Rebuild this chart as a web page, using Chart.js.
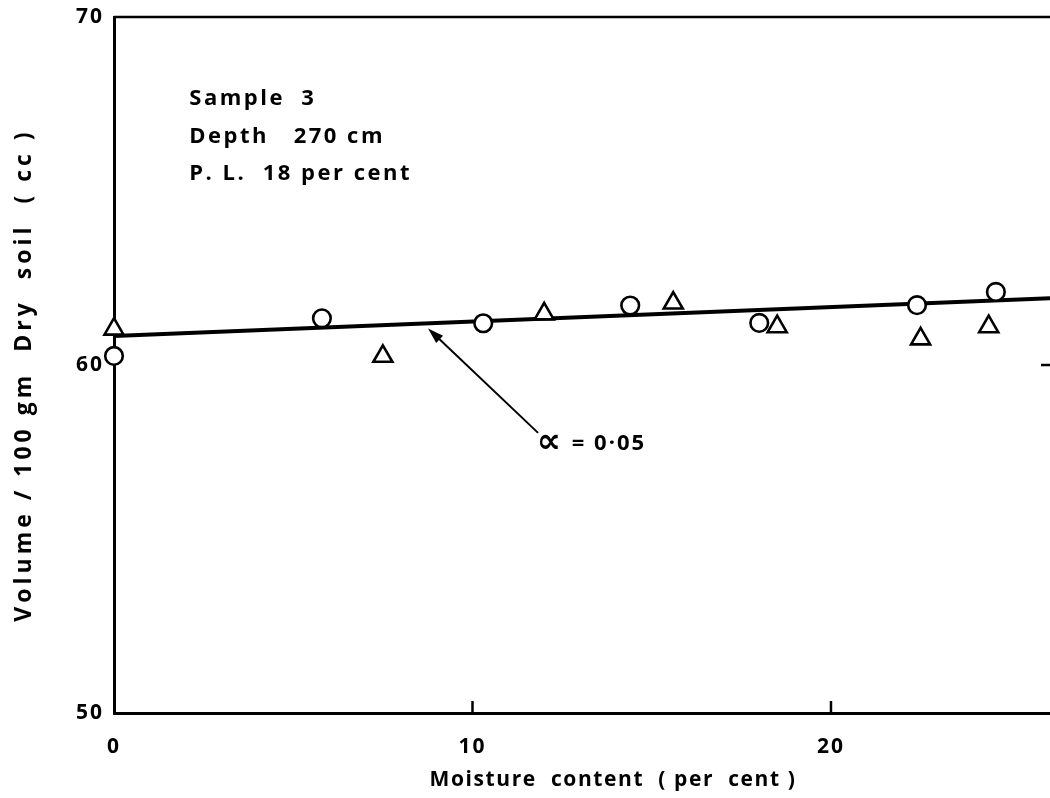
<!DOCTYPE html>
<html>
<head>
<meta charset="utf-8">
<title>Volume vs moisture content - Sample 3</title>
<script src="https://cdn.jsdelivr.net/npm/chart.js@4.4.1/dist/chart.umd.min.js"></script>
<style>
  html, body { margin: 0; padding: 0; background: #fff; overflow: hidden; }
  #wrap { width: 1050px; height: 798px; position: relative; }
  #soilChart { display: block; }
</style>
</head>
<body>
<div id="wrap"><canvas id="soilChart"></canvas></div>
<script>
// moisture content (per cent) / volume per 100 gm dry soil (cc)
const circleX = [0, 5.8, 10.3, 14.4, 18.0, 22.4, 24.6];
const circleY = [60.26, 61.34, 61.2, 61.71, 61.21, 61.72, 62.1];
const triangleX = [0, 7.5, 12.0, 15.6, 18.5, 22.5, 24.4];
const triangleY = [61.03, 60.25, 61.47, 61.78, 61.1, 60.75, 61.1];

// fitted line, alpha = 0.05
const fitX = [0, 26.11];
const fitY = [60.83, 61.92];

const xTicks = [0, 10, 20];
const yTicks = [50, 60, 70];

const noteLines = ['Sample  3', 'Depth   270 cm', 'P. L.  18 per cent'];
const alphaSymbol = '\u221D';
const alphaValue = '= 0\u00B705';
const xTitle = 'Moisture  content  ( per  cent )';
const yTitle = 'Volume / 100 gm  Dry  soil  ( cc )';

const FONT = '"Open Sans", "DejaVu Sans", sans-serif';

function toPoints(xs, ys) {
    return xs.map(function(x, i) { return { x: x, y: ys[i] }; });
}

// extra drawing: frame top, inward ticks, notes, arrow, titles
const extras = {
    id: 'extras',
    beforeDraw: function(chart) {
        chart.ctx.letterSpacing = '2px';
    },
    afterDraw: function(chart) {
        const ctx = chart.ctx;
        const x = chart.scales.x;
        const y = chart.scales.y;
        const area = chart.chartArea;
        ctx.save();
        ctx.strokeStyle = '#000';
        ctx.fillStyle = '#000';

        // top frame line
        ctx.lineWidth = 2.5;
        ctx.beginPath();
        ctx.moveTo(area.left, area.top);
        ctx.lineTo(area.right, area.top);
        ctx.stroke();

        // inward ticks
        [10, 20].forEach(function(v) {
            const px = x.getPixelForValue(v);
            ctx.beginPath();
            ctx.moveTo(px, area.bottom);
            ctx.lineTo(px, area.bottom - 12);
            ctx.stroke();
        });
        const py60 = y.getPixelForValue(60);
        ctx.beginPath();
        ctx.moveTo(area.right, py60);
        ctx.lineTo(area.right - 9, py60);
        ctx.stroke();

        // sample notes
        ctx.letterSpacing = '2.5px';
        ctx.font = 'bold 22px ' + FONT;
        ctx.textAlign = 'left';
        ctx.textBaseline = 'alphabetic';
        noteLines.forEach(function(t, i) {
            ctx.fillText(t, x.getPixelForValue(2.1), y.getPixelForValue(67.47) + i * 37.5);
        });

        // arrow to fitted line
        const tipX = x.getPixelForValue(8.76), tipY = y.getPixelForValue(61.05);
        const tailX = x.getPixelForValue(11.83), tailY = y.getPixelForValue(58.05);
        const ang = Math.atan2(tipY - tailY, tipX - tailX);
        ctx.lineWidth = 2;
        ctx.beginPath();
        ctx.moveTo(tailX, tailY);
        ctx.lineTo(tipX - Math.cos(ang) * 10, tipY - Math.sin(ang) * 10);
        ctx.stroke();
        ctx.beginPath();
        ctx.moveTo(tipX, tipY);
        ctx.lineTo(tipX - Math.cos(ang) * 16 + Math.sin(ang) * 5, tipY - Math.sin(ang) * 16 - Math.cos(ang) * 5);
        ctx.lineTo(tipX - Math.cos(ang) * 16 - Math.sin(ang) * 5, tipY - Math.sin(ang) * 16 + Math.cos(ang) * 5);
        ctx.closePath();
        ctx.fill();

        // alpha label
        const ax = x.getPixelForValue(11.85), ay = y.getPixelForValue(57.75);
        ctx.textBaseline = 'middle';
        ctx.letterSpacing = '0px';
        ctx.font = 'bold 34px "DejaVu Sans", sans-serif';
        ctx.fillText(alphaSymbol, ax - 2, ay);
        ctx.letterSpacing = '2px';
        ctx.font = 'bold 22px ' + FONT;
        ctx.fillText(alphaValue, ax + 33, ay);

        // axis titles
        ctx.letterSpacing = '1.6px';
        ctx.font = 'bold 21px ' + FONT;
        ctx.textAlign = 'center';
        ctx.fillText(xTitle, 613, 780);

        ctx.letterSpacing = '4px';
        ctx.font = 'bold 23px ' + FONT;
        ctx.translate(24, 375);
        ctx.rotate(-Math.PI / 2);
        ctx.fillText(yTitle, 0, 0);
        ctx.restore();
    }
};

const ctx = document.getElementById('soilChart');
new Chart(ctx, {
    type: 'scatter',
    data: {
        datasets: [{
            label: 'circles',
            data: toPoints(circleX, circleY),
            pointStyle: 'circle',
            pointRadius: 8.8,
            pointBorderWidth: 2.6,
            pointBorderColor: '#000',
            pointBackgroundColor: '#fff',
            clip: false,
            order: 0
        }, {
            label: 'triangles',
            data: toPoints(triangleX, triangleY),
            pointStyle: 'triangle',
            pointRadius: 11,
            pointBorderWidth: 2.6,
            pointBorderColor: '#000',
            pointBackgroundColor: '#fff',
            clip: false,
            order: 1
        }, {
            type: 'line',
            label: 'fit',
            data: toPoints(fitX, fitY),
            borderColor: '#000',
            borderWidth: 4,
            pointRadius: 0,
            fill: false,
            clip: false,
            order: 2
        }]
    },
    options: {
        responsive: true,
        maintainAspectRatio: false,
        animation: false,
        layout: {
            autoPadding: false,
            padding: { top: 17, right: 0, left: 0, bottom: 0 }
        },
        plugins: {
            legend: { display: false },
            tooltip: { enabled: false }
        },
        scales: {
            x: {
                type: 'linear',
                min: fitX[0],
                max: fitX[1],
                afterBuildTicks: function(scale) {
                    scale.ticks = xTicks.map(function(v) { return { value: v }; });
                },
                afterFit: function(scale) {
                    scale.height = 85;
                    scale.paddingLeft = 0;
                    scale.paddingRight = 0;
                },
                grid: { display: false },
                border: { display: true, color: '#000', width: 3 },
                ticks: {
                    color: '#000',
                    padding: 13,
                    maxRotation: 0,
                    font: { family: FONT, size: 21, weight: 'bold' }
                }
            },
            y: {
                min: 50,
                max: 70,
                afterBuildTicks: function(scale) {
                    scale.ticks = yTicks.map(function(v) { return { value: v }; });
                },
                afterFit: function(scale) {
                    scale.width = 114;
                    scale.paddingTop = 0;
                    scale.paddingBottom = 0;
                },
                grid: { display: false },
                border: { display: true, color: '#000', width: 3 },
                ticks: {
                    color: '#000',
                    padding: 2,
                    font: { family: FONT, size: 21, weight: 'bold' }
                }
            }
        }
    },
    plugins: [extras]
});
</script>
</body>
</html>
